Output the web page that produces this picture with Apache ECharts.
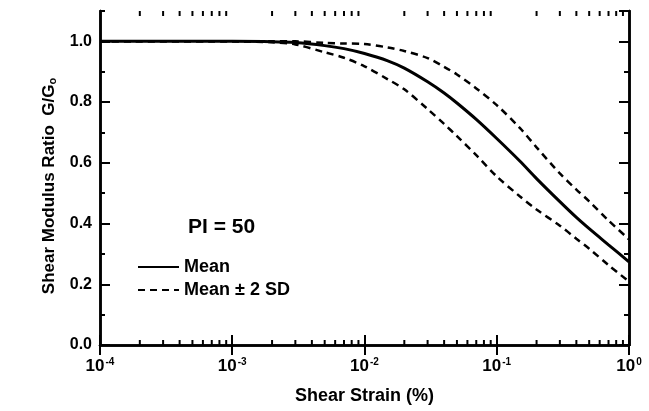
<!DOCTYPE html>
<html>
<head>
<meta charset="utf-8">
<script src="https://cdn.jsdelivr.net/npm/echarts@6/dist/echarts.min.js"></script>
<style>
html,body{margin:0;padding:0;background:#fff;}
#c{width:649px;height:411px;}
</style>
</head>
<body>
<div id="c"></div>
<script>
// Shear strain (%) sample points
var strain    = [1e-4, 1e-3, 2e-3, 3e-3, 5e-3, 7e-3, 1e-2, 1.5e-2, 2e-2, 3e-2, 4e-2, 5e-2, 7e-2, 0.1, 0.15, 0.2, 0.3, 0.4, 0.5, 0.7, 1.0];
// G/G0 values
var meanVals  = [1.0, 1.0, 0.999, 0.996, 0.986, 0.976, 0.96, 0.936, 0.912, 0.867, 0.83, 0.797, 0.743, 0.68, 0.605, 0.548, 0.472, 0.42, 0.383, 0.33, 0.274];
var upperVals = [1.0, 1.0, 1.0, 1.0, 0.995, 0.993, 0.991, 0.98, 0.968, 0.945, 0.916, 0.891, 0.845, 0.79, 0.714, 0.651, 0.565, 0.512, 0.473, 0.41, 0.348];
var lowerVals = [1.0, 1.0, 0.997, 0.99, 0.964, 0.946, 0.918, 0.875, 0.842, 0.777, 0.728, 0.688, 0.625, 0.555, 0.489, 0.446, 0.393, 0.35, 0.317, 0.263, 0.209];
// axis settings
var xMin = 1e-4, xMax = 1;
var yMin = 0, yMax = 1.1;
var yMajor = 0.2, yMinor = 0.1;
var decades = [1e-4, 1e-3, 1e-2, 1e-1];
var minorMultipliers = [2, 3, 4, 5, 6, 7, 8, 9];
var annotation = 'PI = 50';
var legendNames = ['Mean', 'Mean \u00b1 2 SD'];

var FONT = 'Liberation Sans, Arial, Helvetica, sans-serif';

function pairs(xs, ys) { return xs.map(function (x, i) { return [x, ys[i]]; }); }

var minorTicks = [];
decades.forEach(function (d) {
  minorMultipliers.forEach(function (m) { minorTicks.push([d * m, 0]); });
});

var chart = echarts.init(document.getElementById('c'), null, {renderer: 'canvas'});

var axisLine = {show: true, lineStyle: {color: '#000', width: 2.5}};

function yAxisDef(pos, interval, len, labels) {
  var a = {
    type: 'value', position: pos, min: yMin, max: yMax, interval: interval,
    axisLine: axisLine,
    axisTick: {show: true, inside: true, length: len, lineStyle: {color: '#000', width: 2}},
    splitLine: {show: false},
    axisLabel: {show: false}
  };
  if (labels) {
    a.axisLabel = {
      show: true, showMaxLabel: false, margin: 8,
      formatter: function (v) { return v.toFixed(1); },
      fontFamily: FONT, fontWeight: 'bold', fontSize: 16, color: '#000'
    };
    a.name = '{a|Shear Modulus Ratio  G/G}{s|o}';
    a.nameLocation = 'middle';
    a.nameGap = 41;
    a.nameTextStyle = {
      padding: [0, 16, 0, 0],
      rich: {
        a: {fontFamily: FONT, fontWeight: 'bold', fontSize: 17, color: '#000', lineHeight: 20},
        s: {fontFamily: FONT, fontWeight: 'bold', fontSize: 11, color: '#000', lineHeight: 20, verticalAlign: 'bottom', padding: [6, 0, 0, 0]}
      }
    };
  }
  return a;
}

function xAxisDef(pos, labels) {
  var a = {
    type: 'log', logBase: 10, position: pos, min: xMin, max: xMax,
    axisLine: axisLine,
    axisTick: {show: true, inside: true, length: 10, lineStyle: {color: '#000', width: 2}},
    minorTick: {show: false},
    splitLine: {show: false},
    axisLabel: {show: false}
  };
  if (labels) {
    a.axisLabel = {
      show: true, margin: 12,
      formatter: function (v) {
        var e = Math.round(Math.log(v) / Math.LN10);
        return '{b|10}{s|' + (e < 0 ? '-' + (-e) : e) + '}';
      },
      rich: {
        b: {fontFamily: FONT, fontWeight: 'bold', fontSize: 17, color: '#000', lineHeight: 18, verticalAlign: 'bottom'},
        s: {fontFamily: FONT, fontWeight: 'bold', fontSize: 10, color: '#000', lineHeight: 18, verticalAlign: 'top', padding: [0, 0, 8, 1]}
      }
    };
    a.name = 'Shear Strain (%)';
    a.nameLocation = 'middle';
    a.nameGap = 42;
    a.nameTextStyle = {fontFamily: FONT, fontWeight: 'bold', fontSize: 18, color: '#000'};
  }
  return a;
}

var option = {
  backgroundColor: '#fff',
  animation: false,
  grid: {left: 100, right: 20, top: 11, bottom: 66, containLabel: false},
  title: {
    text: annotation, left: 183, top: 212,
    textStyle: {fontFamily: FONT, fontWeight: 'bold', fontSize: 21, color: '#000'}
  },
  legend: {
    left: 132, top: 253, orient: 'vertical',
    itemWidth: 41, itemHeight: 14, itemGap: 5,
    data: legendNames,
    itemStyle: {color: 'rgba(0,0,0,0)', borderWidth: 0, opacity: 0},
    textStyle: {fontFamily: FONT, fontWeight: 'bold', fontSize: 18, color: '#000'}
  },
  xAxis: [xAxisDef('bottom', true), xAxisDef('top', false)],
  yAxis: [
    yAxisDef('left', yMajor, 10, true),
    yAxisDef('left', yMinor, 5, false),
    yAxisDef('right', yMajor, 10, false),
    yAxisDef('right', yMinor, 5, false)
  ],
  series: [
    {
      type: 'custom', name: 'minorTicks', xAxisIndex: 0, yAxisIndex: 0,
      data: minorTicks, silent: true, clip: false,
      renderItem: function (params, api) {
        var v = api.value(0);
        var pb = api.coord([v, yMin]);
        var pt = api.coord([v, yMax]);
        var st = {stroke: '#000', lineWidth: 2};
        return {
          type: 'group',
          children: [
            {type: 'line', shape: {x1: pb[0], y1: pb[1], x2: pb[0], y2: pb[1] - 5}, style: st},
            {type: 'line', shape: {x1: pt[0], y1: pt[1], x2: pt[0], y2: pt[1] + 5}, style: st}
          ]
        };
      }
    },
    {
      type: 'line', name: legendNames[1], data: pairs(strain, upperVals),
      smooth: 0.3, symbol: 'none',
      lineStyle: {color: '#000', width: 2.5, type: [7, 5]}, itemStyle: {color: '#000'}
    },
    {
      type: 'line', name: legendNames[1], data: pairs(strain, lowerVals),
      smooth: 0.3, symbol: 'none',
      lineStyle: {color: '#000', width: 2.5, type: [7, 5]}, itemStyle: {color: '#000'}
    },
    {
      type: 'line', name: legendNames[0], data: pairs(strain, meanVals),
      smooth: 0.3, symbol: 'none',
      lineStyle: {color: '#000', width: 3}, itemStyle: {color: '#000'}
    }
  ]
};
chart.setOption(option);
</script>
</body>
</html>
